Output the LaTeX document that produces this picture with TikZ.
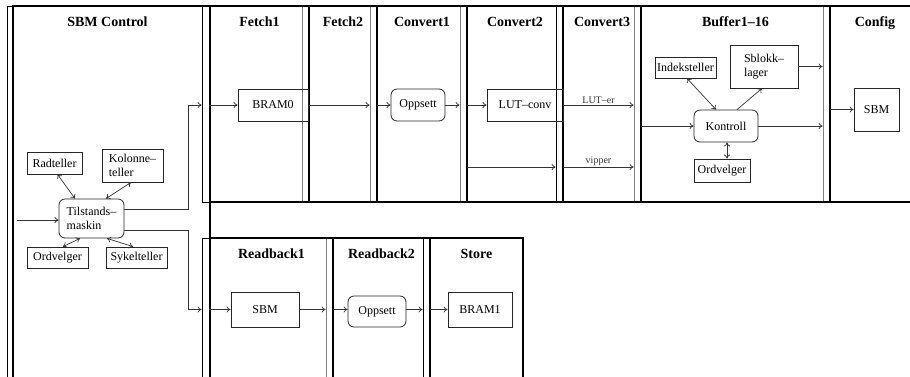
\documentclass[tikz,border=0pt]{standalone}
\usepackage{fontspec}
\setmainfont{Liberation Serif}
\usetikzlibrary{arrows.meta, positioning, calc}

\begin{document}
\begin{tikzpicture}[
    x=1pt, y=-1pt,
    stage/.style={rectangle, draw, line width=2.2pt, inner sep=0pt},
    title/.style={anchor=base, inner sep=0pt, font=\fontsize{14}{16}\selectfont\bfseries},
    reg/.style={rectangle, draw, line width=0.7pt, minimum width=7pt, inner sep=0pt},
    greyreg/.style={reg, draw=gray},
    blk/.style={rectangle, draw=black!85, line width=0.8pt, inner sep=0pt, align=left, font=\fontsize{12}{14.5}\selectfont},
    rblk/.style={blk, rounded corners=6pt},
    lbl/.style={above, inner sep=1.5pt, font=\fontsize{10}{11}\selectfont},
    arr/.style={-{To[length=4pt, width=6pt]}, line width=0.7pt, black!80},
    darr/.style={{To[length=4pt, width=6pt]}-{To[length=4pt, width=6pt]}, line width=0.7pt, black!80}
]
    \useasboundingbox (0,0) rectangle (910,376);
    \clip (0,0) rectangle (910,376);

    % registers between the stages
    \node[reg, minimum width=6pt, minimum height=384pt] (rSBM) at (10,198) {};
    \node[reg, minimum height=196pt] (rF1) at (205.5,104) {};
    \node[greyreg, minimum height=196pt] (rF2) at (305.5,104) {};
    \node[greyreg, minimum height=196pt] (rC1) at (373.5,104) {};
    \node[greyreg, minimum height=196pt] (rC2) at (463.5,104) {};
    \node[reg, minimum height=196pt] (rC3) at (559.5,104) {};
    \node[greyreg, minimum height=196pt] (rBuf) at (637.5,104) {};
    \node[greyreg, minimum height=196pt] (rCfg) at (826.5,104) {};
    \node[reg, minimum height=152pt] (rR1) at (205.5,314) {};
    \node[greyreg, minimum height=152pt] (rR2) at (329.5,314) {};
    \node[reg, minimum height=152pt] (rSt) at (426.5,314) {};

    % stages
    \node[stage, minimum width=197pt, minimum height=384pt] (sSBM) at (111.5,198) {};
    \node[stage, minimum width=99pt, minimum height=196pt] (sF1) at (259.5,104) {};
    \node[stage, minimum width=68pt, minimum height=196pt] (sF2) at (343,104) {};
    \node[stage, minimum width=90pt, minimum height=196pt] (sC1) at (422,104) {};
    \node[stage, minimum width=96pt, minimum height=196pt] (sC2) at (515,104) {};
    \node[stage, minimum width=78pt, minimum height=196pt] (sC3) at (602,104) {};
    \node[stage, minimum width=189pt, minimum height=196pt] (sBuf) at (735.5,104) {};
    \node[stage, minimum width=90pt, minimum height=196pt] (sCfg) at (875,104) {};
    \node[stage, minimum width=123pt, minimum height=152pt] (sR1) at (271.5,314) {};
    \node[stage, minimum width=97pt, minimum height=152pt] (sR2) at (381.5,314) {};
    \node[stage, minimum width=93pt, minimum height=152pt] (sSt) at (476.5,314) {};

    \node[title] (tSBM) at ($(sSBM.north)+(-4,22)$) {SBM Control};
    \node[title] (tF1) at ($(sF1.north)+(0,22)$) {Fetch1};
    \node[title] (tF2) at ($(sF2.north)+(0,22)$) {Fetch2};
    \node[title] (tC1) at ($(sC1.north)+(0,22)$) {Convert1};
    \node[title] (tC2) at ($(sC2.north)+(0,22)$) {Convert2};
    \node[title] (tC3) at ($(sC3.north)+(0,22)$) {Convert3};
    \node[title] (tBuf) at ($(sBuf.north)+(0,22)$) {Buffer1--16};
    \node[title] (tCfg) at ($(sCfg.north)+(0,22)$) {Config};
    \node[title] (tR1) at ($(sR1.north)+(0,22)$) {Readback1};
    \node[title] (tR2) at ($(sR2.north)+(0,22)$) {Readback2};
    \node[title] (tSt) at ($(sSt.north)+(0,22)$) {Store};

    % SBM Control
    \node[rblk, minimum width=65pt, minimum height=39pt] (tilst) at (91.5,218.5) {Tilstands--\\maskin};
    \node[blk, minimum width=55pt, minimum height=22pt] (radt) at (54.5,163) {Radteller};
    \node[blk, minimum width=61pt, minimum height=33pt] (kol) at (132.5,165.5) {Kolonne--\\teller};
    \node[blk, minimum width=61pt, minimum height=21pt] (ordv1) at (57.5,257.5) {Ordvelger};
    \node[blk, minimum width=61pt, minimum height=21pt] (syk) at (136.5,257.5) {Sykelteller};
    \coordinate (inp) at (17,220);

    \draw[arr] (inp) -- (tilst.west |- inp);
    \draw[darr] ([xshift=3pt]radt.south) -- ([xshift=-16.5pt]tilst.north);
    \draw[darr] ([xshift=-1.5pt]kol.south) -- ([xshift=14.5pt]tilst.north);
    \draw[darr] ([xshift=5.5pt]ordv1.north) -- ([xshift=-11.5pt]tilst.south);
    \draw[darr] ([xshift=-3.5pt]syk.north) -- ([xshift=15.5pt]tilst.south);

    % Fetch and Convert
    \node[blk, minimum width=70pt, minimum height=32pt] (bram0) at (273,105) {BRAM0};
    \node[rblk, minimum width=54pt, minimum height=32pt] (opp1) at (418,105) {Oppsett};
    \node[blk, minimum width=76pt, minimum height=32pt] (lut) at (525,105) {LUT--conv};
    \coordinate (vip) at (0,167);

    \draw[arr] ([yshift=9.5pt]tilst.east) -- ++(64,0) |- (rF1.west |- bram0);
    \draw[arr] ([yshift=-11.5pt]tilst.east) -- ++(64,0) |- (rR1.west |- 0,309.5);
    \draw[arr] (rF1.east |- bram0) -- (bram0);
    \draw[arr] (rF2.east |- bram0) -- (rC1.west |- bram0);
    \draw[arr] (rC1.east |- opp1) -- (opp1);
    \draw[arr] (opp1) -- (rC2.west |- opp1);
    \draw[arr] (rC2.east |- lut) -- (lut);
    \draw[arr] (rC3.east |- lut) -- node[lbl] {LUT--er} (rBuf.west |- lut);
    \draw[arr] (rC2.east |- vip) -- (rC3.west |- vip);
    \draw[arr] (rC3.east |- vip) -- node[lbl] {vipper} (rBuf.west |- vip);

    % Buffer1-16
    \node[rblk, minimum width=64pt, minimum height=32pt] (ktrl) at (726,126) {Kontroll};
    \node[blk, minimum width=61pt, minimum height=21pt] (idx) at (685.5,67.5) {Indeksteller};
    \node[blk, minimum width=68pt, minimum height=43pt] (sbl) at (764,66.5) {Sblokk--\\lager};
    \node[blk, minimum width=56pt, minimum height=23pt] (ordv2) at (722,170.5) {Ordvelger};

    \draw[arr] (rBuf.east |- ktrl) -- (ktrl);
    \draw[arr] (ktrl) -- (rCfg.west |- ktrl);
    \draw[darr] ([xshift=1.5pt]idx.south) -- ([xshift=-10pt]ktrl.north);
    \draw[arr] ([xshift=11pt]ktrl.north) -- ([xshift=-2pt]sbl.south);
    \draw[darr] ([xshift=1pt]ktrl.south) -- ([xshift=5pt]ordv2.north);
    \draw[arr] (sbl.east) -- (rCfg.west |- sbl.east);

    % Config
    \node[blk, minimum width=45pt, minimum height=43pt] (cfg) at (876.5,109.5) {SBM};
    \draw[arr] (rCfg.east |- cfg) -- (cfg);

    % Readback and Store
    \node[blk, minimum width=68pt, minimum height=35pt] (sbm2) at (265,309.5) {SBM};
    \node[rblk, minimum width=58pt, minimum height=31pt] (opp2) at (377,311.5) {Oppsett};
    \node[blk, minimum width=64pt, minimum height=35pt] (bram1) at (480,309.5) {BRAM1};

    \draw[arr] (rR1.east |- sbm2) -- (sbm2);
    \draw[arr] (sbm2) -- (rR2.west |- sbm2);
    \draw[arr] (rR2.east |- sbm2) -- (opp2.west |- sbm2);
    \draw[arr] (opp2.east |- sbm2) -- (rSt.west |- sbm2);
    \draw[arr] (rSt.east |- bram1) -- (bram1);
\end{tikzpicture}
\end{document}
